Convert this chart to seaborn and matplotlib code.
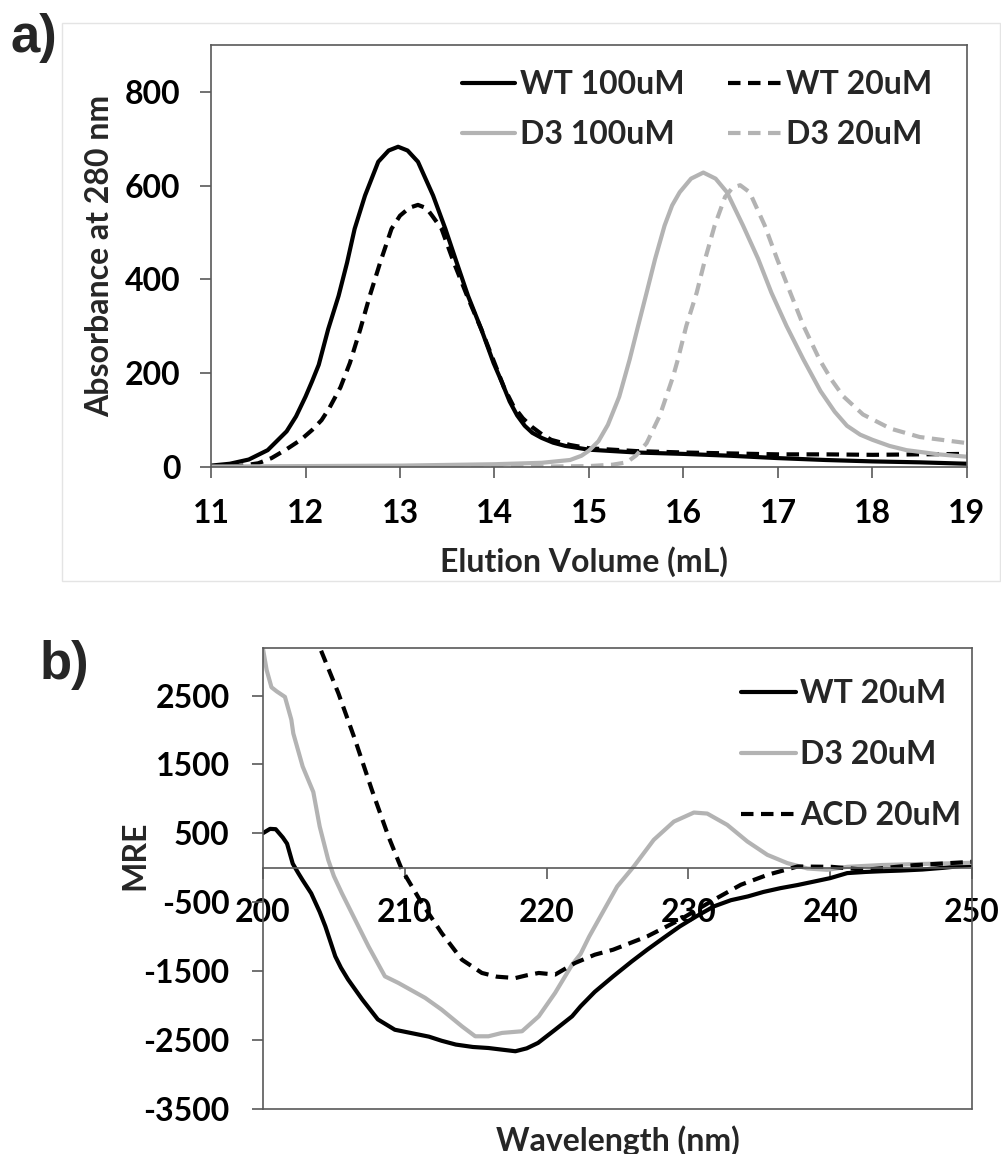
import numpy as np
import pandas as pd
import matplotlib
matplotlib.use("Agg")
import matplotlib.pyplot as plt
from matplotlib.patches import Rectangle
import seaborn as sns

# ---------------- Panel a data (SEC traces) ----------------
wt100_x = [11.0, 11.2, 11.4, 11.6, 11.8, 11.9, 12.0, 12.07, 12.14, 12.24, 12.35, 12.44, 12.52, 12.63,
           12.77, 12.88, 12.98, 13.08, 13.19, 13.35, 13.48, 13.6, 13.72, 13.86, 13.99, 14.08, 14.16,
           14.24, 14.32, 14.4, 14.5, 14.62, 14.75, 15.0, 15.5, 16.0, 16.5, 17.0, 17.5, 18.0, 18.5, 19.0]
wt100_y = [3, 7, 16, 36, 76, 108, 150, 183, 218, 294, 365, 436, 508, 579,
           651, 675, 683, 675, 651, 579, 508, 436, 365, 294, 222, 180, 140,
           110, 88, 73, 62, 52, 45, 37, 31, 28, 24, 19, 15, 12, 10, 7]

wt20_x = [11.0, 11.3, 11.5, 11.64, 11.8, 11.95, 12.07, 12.17, 12.25, 12.37, 12.47, 12.58, 12.68, 12.79,
          12.91, 13.0, 13.1, 13.19, 13.28, 13.34, 13.44, 13.57, 13.71, 13.86, 14.0, 14.1, 14.2, 14.3,
          14.4, 14.5, 14.6, 14.8, 15.0, 15.5, 16.0, 16.5, 17.0, 17.5, 18.0, 18.5, 19.0]
wt20_y = [0, 2, 8, 19, 38, 58, 79, 100, 125, 170, 222, 294, 365, 436,
          508, 536, 553, 559, 552, 536, 508, 436, 365, 294, 222, 170, 130, 104,
          85, 70, 58, 47, 40, 34, 31, 29, 27, 27, 26, 27, 28]

d3100_x = [11.0, 12.0, 13.0, 14.0, 14.5, 14.8, 14.92, 15.0, 15.1, 15.2, 15.32, 15.43, 15.52, 15.61,
           15.7, 15.8, 15.88, 15.96, 16.08, 16.21, 16.34, 16.46, 16.63, 16.79, 16.93, 17.09, 17.27,
           17.45, 17.6, 17.73, 17.87, 18.0, 18.18, 18.36, 18.7, 19.0]
d3100_y = [1, 2, 3, 6, 9, 15, 24, 35, 55, 90, 150, 229, 301, 372,
           444, 515, 558, 586, 615, 628, 615, 586, 515, 444, 372, 301, 229,
           162, 118, 88, 69, 58, 45, 36, 27, 22]

d320_x = [11.0, 13.0, 14.5, 15.0, 15.25, 15.4, 15.5, 15.61, 15.75, 15.89, 15.94, 16.03, 16.14, 16.23,
          16.33, 16.44, 16.52, 16.6, 16.7, 16.86, 16.99, 17.13, 17.27, 17.44, 17.57, 17.69, 17.9,
          18.19, 18.5, 19.0]
d320_y = [0, 0, 1, 2, 5, 10, 25, 51, 110, 193, 229, 301, 372, 444,
          515, 576, 596, 601, 586, 515, 444, 372, 301, 229, 185, 151, 112,
          82, 64, 51]

a_xticks = [11, 12, 13, 14, 15, 16, 17, 18, 19]
a_yticks = [0, 200, 400, 600, 800]

# ---------------- Panel b data (CD spectra) ----------------
wtcd_x = [200.0, 200.5, 200.9, 201.4, 201.7, 202.1, 202.5, 202.8, 203.4, 204.0, 204.4, 205.1, 205.5,
          206.0, 207.0, 208.1, 209.3, 210.5, 211.7, 212.6, 213.6, 214.8, 215.9, 216.9, 217.8, 218.6,
          219.4, 220.6, 221.8, 222.4, 223.4, 224.7, 226.0, 227.1, 228.3, 229.4, 230.6, 231.8, 233.0,
          234.2, 235.3, 236.5, 237.7, 238.9, 240.0, 241.2, 242.5, 243.6, 245.0, 246.5, 248.0, 250.0]
wtcd_y = [503, 565, 560, 440, 350, 60, -80, -180, -370, -640, -850, -1285, -1450,
          -1620, -1910, -2200, -2350, -2400, -2450, -2510, -2565, -2600, -2615, -2640, -2662, -2620,
          -2541, -2350, -2155, -2010, -1800, -1575, -1360, -1188, -1010, -850, -700, -560, -470,
          -415, -350, -295, -250, -198, -150, -77, -60, -50, -40, -25, 0, 43]

d3cd_x = [200.0, 200.26, 200.6, 200.97, 201.55, 202.0, 202.14, 202.8, 203.55, 204.0, 204.6, 205.0,
          205.56, 206.5, 207.44, 208.6, 209.55, 210.5, 211.44, 212.6, 214.03, 214.97, 215.9, 216.86,
          218.27, 219.45, 220.6, 221.8, 222.4, 223.0, 223.8, 224.98, 226.15, 227.56, 228.98, 230.39,
          231.33, 232.74, 234.16, 235.57, 236.98, 238.4, 239.8, 241.2, 243.6, 245.9, 250.0]
d3cd_y = [3180, 2870, 2620, 2560, 2480, 2150, 1950, 1470, 1100, 600, 116, -120,
          -367, -754, -1140, -1575, -1671, -1780, -1888, -2058, -2300, -2445, -2445, -2396,
          -2372, -2155, -1816, -1406, -1250, -1000, -705, -271, 19, 406, 671, 802,
          787, 623, 382, 188, 68, -10, -29, 14, 40, 53, 72]

acd_x = [204.1, 205.32, 206.5, 207.68, 208.85, 209.8, 211.2, 212.6, 214.03, 215.44, 216.5, 217.8,
         218.6, 219.45, 220.6, 222.0, 223.4, 224.7, 227.1, 229.4, 231.8, 233.7, 235.6, 237.7,
         240.1, 242.5, 245.9, 250.0]
acd_y = [3150, 2532, 1855, 1130, 454, -29, -512, -946, -1333, -1526, -1580, -1600,
         -1560, -1526, -1550, -1382, -1261, -1188, -995, -754, -464, -246, -101, 19,
         14, -29, 38, 87]

b_xticks = [200, 210, 220, 230, 240, 250]
b_yticks = [-3500, -2500, -1500, -500, 500, 1500, 2500]

# ---------------- Styling ----------------
sns.set_theme(style="white")
plt.rcParams["font.family"] = ["Lato", "DejaVu Sans"]
plt.rcParams["axes.unicode_minus"] = False

BLACK = "#000000"
GRAY = "#b3b3b3"
SPINE = "#595959"
DASH = (0, (3, 1.8))
LW = 3.0
FS = 23

fig = plt.figure(figsize=(10.01, 11.54), dpi=100)

# light outer frame of panel a
fig.add_artist(Rectangle((62 / 1001, 1 - 581 / 1154), (1000 - 62) / 1001, (581 - 23) / 1154,
                         transform=fig.transFigure, fill=False, edgecolor="#e4e4e4", lw=1.0))

ax_a = fig.add_axes([0.2108, 0.5953, 0.7552, 0.3657])
ax_b = fig.add_axes([0.2627, 0.0390, 0.7083, 0.3995])


def draw(ax, x, y, color, ls, label):
    df = pd.DataFrame({"x": x, "y": y})
    sns.lineplot(data=df, x="x", y="y", ax=ax, color=color, linestyle=ls, lw=LW,
                 label=label, sort=False, estimator=None)


# Panel a
draw(ax_a, wt100_x, wt100_y, BLACK, "-", "WT 100uM")
draw(ax_a, wt20_x, wt20_y, BLACK, DASH, "WT 20uM")
draw(ax_a, d3100_x, d3100_y, GRAY, "-", "D3 100uM")
draw(ax_a, d320_x, d320_y, GRAY, DASH, "D3 20uM")

ax_a.set_xlim(11, 19)
ax_a.set_ylim(0, 900)
ax_a.set_xticks(a_xticks)
ax_a.set_yticks(a_yticks)
ax_a.set_xticklabels([str(v) for v in a_xticks])
ax_a.set_yticklabels([str(v) for v in a_yticks])

# Panel b
draw(ax_b, wtcd_x, wtcd_y, BLACK, "-", "WT 20uM")
draw(ax_b, d3cd_x, d3cd_y, GRAY, "-", "D3 20uM")
draw(ax_b, acd_x, acd_y, BLACK, DASH, "ACD 20uM")

ax_b.set_xlim(200, 250)
ax_b.set_ylim(-3500, 3190)
ax_b.set_xticks(b_xticks)
ax_b.set_yticks(b_yticks)
ax_b.set_xticklabels([str(v) for v in b_xticks])
ax_b.set_yticklabels([str(v) for v in b_yticks])
ax_b.spines["bottom"].set_position(("data", 0))
ax_b.plot([0, 1], [0, 0], transform=ax_b.transAxes, color=SPINE, lw=1.2, clip_on=False, zorder=5)

for ax in (ax_a, ax_b):
    ax.grid(False)
    for s in ax.spines.values():
        s.set_visible(True)
        s.set_color(SPINE)
        s.set_linewidth(1.2)
    ax.tick_params(axis="both", which="major", direction="out", length=8, width=1.2,
                   color=SPINE, labelsize=FS, labelcolor="black")
    for lab in ax.get_xticklabels() + ax.get_yticklabels():
        lab.set_fontweight("bold")
    ax.tick_params(bottom=True, left=True, top=False, right=False)

ax_a.tick_params(axis="y", pad=14)
ax_a.tick_params(axis="x", pad=15)
ax_b.tick_params(axis="y", pad=16)
ax_b.tick_params(axis="x", pad=14)

# axis labels
ax_a.set_xlabel("Elution Volume (mL)", fontsize=FS, fontweight="bold")
ax_a.set_ylabel("Absorbance at 280 nm", fontsize=FS, fontweight="bold")
ax_a.xaxis.set_label_coords(0.493, -0.225)
ax_a.xaxis.label.set_va("center")
ax_a.yaxis.set_label_coords(-0.147, 0.50)
ax_a.yaxis.label.set_va("center")

ax_b.set_xlabel("Wavelength (nm)", fontsize=FS, fontweight="bold")
ax_b.set_ylabel("MRE", fontsize=FS, fontweight="bold")
ax_b.xaxis.set_label_coords(0.5, -0.068)
ax_b.xaxis.label.set_va("center")
ax_b.yaxis.set_label_coords(-0.1805, 0.551)
ax_b.yaxis.label.set_va("center")

# legends
h, l = ax_a.get_legend_handles_labels()
order = [0, 2, 1, 3]
ax_a.legend([h[i] for i in order], [l[i] for i in order], loc="upper left",
            bbox_to_anchor=(0.332, 0.940), ncol=2, frameon=False,
            prop={"size": FS, "weight": "bold"}, handlelength=1.66, handletextpad=0.16,
            columnspacing=1.35, labelspacing=0.65, borderpad=0, borderaxespad=0)

h, l = ax_b.get_legend_handles_labels()
ax_b.legend(h, l, loc="upper left", bbox_to_anchor=(0.674, 0.933), frameon=False,
            prop={"size": FS, "weight": "bold"}, handlelength=1.72, handletextpad=0.13,
            labelspacing=1.0, borderpad=0, borderaxespad=0)

# panel letters
fig.text(34 / 1001, 1 - 38 / 1154, "a)", ha="center", va="center", fontsize=38,
         fontweight="bold", family=["Liberation Sans", "DejaVu Sans"])
fig.text(64 / 1001, 1 - 665 / 1154, "b)", ha="center", va="center", fontsize=38,
         fontweight="bold", family=["Liberation Sans", "DejaVu Sans"])

fig.savefig("out.png", dpi=100, facecolor="white")
